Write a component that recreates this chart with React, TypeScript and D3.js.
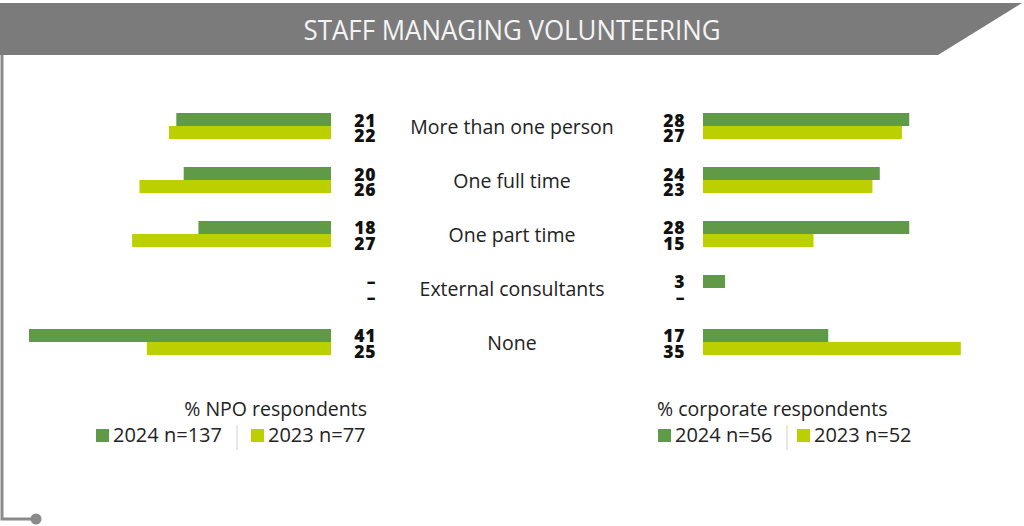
import React, { useEffect, useRef } from "react";
import * as d3 from "d3";

// Chart data
const categories = [
  "More than one person",
  "One full time",
  "One part time",
  "External consultants",
  "None",
];
const years = ["2024", "2023"];
const npo2024: (number | null)[] = [21, 20, 18, null, 41];
const npo2023: (number | null)[] = [22, 26, 27, null, 25];
const corp2024: (number | null)[] = [28, 24, 28, 3, 17];
const corp2023: (number | null)[] = [27, 23, 15, null, 35];
const npoLegend = ["2024 n=137", "2023 n=77"];
const corpLegend = ["2024 n=56", "2023 n=52"];

const title = "STAFF MANAGING VOLUNTEERING";

const App: React.FC = () => {
  const svgRef = useRef<SVGSVGElement>(null);

  useEffect(() => {
    if (!svgRef.current) return;
    const width = 1024;
    const height = 526;
    const dark = "#619a46";
    const light = "#bccf00";
    const grey = "#7b7b7b";
    const font = "'Open Sans', sans-serif";

    d3.select(svgRef.current).selectAll("*").remove();
    const svg = d3
      .select(svgRef.current)
      .attr("width", width)
      .attr("height", height)
      .style("background", "#fff");

    // header band with slanted right edge
    svg
      .append("path")
      .attr("d", "M0,3 L1022,3 L938,55 L0,55 Z")
      .attr("fill", grey);
    svg
      .append("text")
      .attr("x", 512)
      .attr("y", 40)
      .attr("text-anchor", "middle")
      .attr("font-family", font)
      .attr("font-size", 28)
      .attr("fill", "#f4f4f4")
      .attr("textLength", 417)
      .attr("lengthAdjust", "spacingAndGlyphs")
      .text(title);

    // left frame line with end dot
    svg
      .append("path")
      .attr("d", "M2,55 L2,519 L36,519")
      .attr("fill", "none")
      .attr("stroke", "#8a8a8a")
      .attr("stroke-width", 3);
    svg
      .append("circle")
      .attr("cx", 36)
      .attr("cy", 519)
      .attr("r", 5.5)
      .attr("fill", "#8a8a8a");

    // scales
    const y = d3
      .scaleBand<string>()
      .domain(categories)
      .range([113, 355])
      .paddingInner(0.5185)
      .paddingOuter(0);
    const ySub = d3
      .scaleBand<string>()
      .domain(years)
      .range([0, y.bandwidth()]);
    const len = d3.scaleLinear().domain([0, 41]).range([0, 302]);

    const colors: Record<string, string> = { "2024": dark, "2023": light };
    // value labels sit a little apart from the bar centres
    const numShift: Record<string, number> = { "2024": 7, "2023": 9.5 };

    const panels = [
      { series: [npo2024, npo2023], side: "left", base: 331, numX: 376 },
      { series: [corp2024, corp2023], side: "right", base: 703, numX: 685 },
    ];

    panels.forEach((p) => {
      const g = svg.append("g");
      categories.forEach((cat, ci) => {
        // stacked pair of values, one text per category
        const label = g
          .append("text")
          .attr("text-anchor", "end")
          .attr("font-family", font)
          .attr("font-weight", 800)
          .attr("font-size", 17.5)
          .attr("letter-spacing", 0.6)
          .attr("fill", "#111");
        p.series.forEach((vals, si) => {
          const yr = years[si];
          const v = vals[ci];
          const yTop = (y(cat) as number) + (ySub(yr) as number);
          if (v !== null) {
            const w = len(v);
            g.append("rect")
              .attr("x", p.side === "left" ? p.base - w : p.base)
              .attr("y", yTop)
              .attr("width", w)
              .attr("height", ySub.bandwidth())
              .attr("fill", colors[yr]);
          }
          label
            .append("tspan")
            .attr("x", p.numX)
            .attr("y", yTop + ySub.bandwidth() / 2 + numShift[yr])
            .text(v === null ? "–" : String(v));
        });
      });
    });

    // category labels
    svg
      .append("g")
      .selectAll("text")
      .data(categories)
      .join("text")
      .attr("x", 512)
      .attr("y", (d) => (y(d) as number) + y.bandwidth() / 2 + 8)
      .attr("text-anchor", "middle")
      .attr("font-family", font)
      .attr("font-size", 19.5)
      .attr("fill", "#222")
      .text((d) => d);

    // legends
    const drawLegend = (
      heading: string,
      headX: number,
      headAnchor: string,
      items: string[],
      xs: number[],
      sepX: number
    ) => {
      const lg = svg.append("g").attr("font-family", font).attr("fill", "#222");
      lg.append("text")
        .attr("x", headX)
        .attr("y", 416)
        .attr("text-anchor", headAnchor)
        .attr("font-size", 19.5)
        .text(heading);
      items.forEach((item, i) => {
        lg.append("rect")
          .attr("x", xs[i])
          .attr("y", 429)
          .attr("width", 13)
          .attr("height", 13)
          .attr("fill", colors[years[i]]);
        lg.append("text")
          .attr("x", xs[i] + 17)
          .attr("y", 442)
          .attr("font-size", 20)
          .text(item);
      });
      lg.append("line")
        .attr("x1", sepX)
        .attr("x2", sepX)
        .attr("y1", 425)
        .attr("y2", 450)
        .attr("stroke", "#cfcfcf")
        .attr("stroke-width", 1);
    };

    drawLegend("% NPO respondents", 367, "end", npoLegend, [96, 251], 237);
    drawLegend("% corporate respondents", 657, "start", corpLegend, [658, 797], 787);
  }, []);

  return (
    <svg
      ref={svgRef}
      style={{ position: "fixed", left: 0, top: 0, display: "block" }}
    />
  );
};

export default App;
